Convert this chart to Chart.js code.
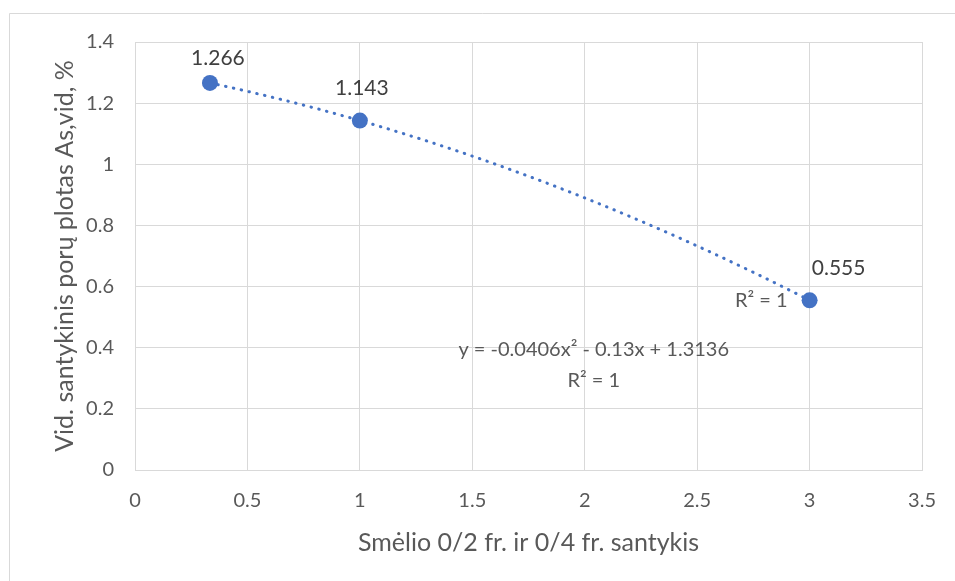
<!DOCTYPE html>
<html>
<head>
<meta charset="utf-8">
<script src="https://cdn.jsdelivr.net/npm/chart.js@4.4.1/dist/chart.umd.min.js"></script>
<style>
  html, body { margin: 0; padding: 0; background: #ffffff; }
  #wrap { position: relative; width: 955px; height: 581px; }
  canvas { display: block; }
</style>
</head>
<body>
<div id="wrap"><canvas id="chart" width="955" height="581"></canvas></div>
<script>
// Sand fraction ratio (0/2 : 0/4) and mean relative pore area As,vid (%)
const ratios = [1 / 3, 1, 3];
const poreArea = [1.266, 1.143, 0.555];

// Polynomial trendline text (order 2)
const trendEquation = 'y = -0.0406x² - 0.13x + 1.3136';
const trendR2 = 'R² = 1';

const xTicks = [0, 0.5, 1, 1.5, 2, 2.5, 3, 3.5];
const yTicks = [0, 0.2, 0.4, 0.6, 0.8, 1, 1.2, 1.4];

const xTitle = 'Smėlio 0/2 fr. ir 0/4 fr. santykis';
const yTitle = 'Vid. santykinis porų plotas As,vid, %';

const BLUE = '#4472c4';
const TEXT = '#595959';
const GRID = '#d9d9d9';
const FONT = 'Lato, "Open Sans", sans-serif';

const points = ratios.map((x, i) => ({ x, y: poreArea[i] }));

// Outer frame of the chart object
const framePlugin = {
  id: 'frame',
  beforeDraw(chart) {
    const ctx = chart.ctx;
    ctx.save();
    ctx.fillStyle = '#ffffff';
    ctx.fillRect(0, 0, chart.width, chart.height);
    ctx.strokeStyle = GRID;
    ctx.lineWidth = 1;
    ctx.beginPath();
    ctx.moveTo(9.5, chart.height);
    ctx.lineTo(9.5, 13.5);
    ctx.lineTo(chart.width, 13.5);
    ctx.stroke();
    ctx.restore();
  }
};

// Shape the trendline as the second-order polynomial through the points:
// the Bezier control points follow the parabola's slope at each point.
const parabolaPlugin = {
  id: 'parabolaTrend',
  beforeDatasetsDraw(chart) {
    const meta = chart.getDatasetMeta(1);
    const line = meta.dataset;
    const pts = meta.data;
    if (!line || pts.length !== 3) return;
    line.updateControlPoints(chart.chartArea, 'x');
    const [a, b, c] = pts;
    const f01 = (b.y - a.y) / (b.x - a.x);
    const f12 = (c.y - b.y) / (c.x - b.x);
    const f012 = (f12 - f01) / (c.x - a.x);
    const slope = x => f01 + f012 * (2 * x - a.x - b.x);
    for (let i = 0; i < pts.length - 1; i++) {
      const p = pts[i], q = pts[i + 1];
      const d = (q.x - p.x) / 3;
      p.cp2x = p.x + d;
      p.cp2y = p.y + slope(p.x) * d;
      q.cp1x = q.x - d;
      q.cp1y = q.y - slope(q.x) * d;
    }
    a.cp1x = a.x; a.cp1y = a.y;
    c.cp2x = c.x; c.cp2y = c.y;
    line._path = undefined;
  }
};

// Value labels above markers and trendline text
const labelOffsets = [[8, -25], [2, -32], [29, -32]];
const labelPlugin = {
  id: 'valueLabels',
  afterDatasetsDraw(chart) {
    const ctx = chart.ctx;
    const xs = chart.scales.x, ys = chart.scales.y;
    ctx.save();
    ctx.textBaseline = 'middle';
    ctx.textAlign = 'center';
    ctx.fillStyle = '#404040';
    ctx.font = '21px ' + FONT;
    poreArea.forEach((v, i) => {
      const px = xs.getPixelForValue(ratios[i]);
      const py = ys.getPixelForValue(v);
      ctx.fillText(v.toFixed(3), px + labelOffsets[i][0], py + labelOffsets[i][1]);
    });
    // trendline label beside the last point
    ctx.fillStyle = TEXT;
    ctx.font = '20px ' + FONT;
    const last = ratios.length - 1;
    const lx = xs.getPixelForValue(ratios[last]);
    const ly = ys.getPixelForValue(poreArea[last]);
    ctx.textAlign = 'right';
    ctx.fillText(trendR2, lx - 22, ly);
    // equation block in the plot
    const ex = xs.getPixelForValue(2.04);
    const ey = ys.getPixelForValue(0.393);
    ctx.textAlign = 'center';
    ctx.fillText(trendEquation, ex, ey);
    ctx.fillText(trendR2, ex, ey + 31);
    ctx.restore();
  }
};

new Chart(document.getElementById('chart'), {
  type: 'scatter',
  data: {
    datasets: [
      {
        label: 'As,vid',
        data: points,
        backgroundColor: BLUE,
        borderColor: BLUE,
        pointRadius: 8,
        pointHoverRadius: 8,
        borderWidth: 0,
        showLine: false,
        order: 0
      },
      {
        label: 'Trendline',
        data: points,
        showLine: true,
        borderColor: BLUE,
        borderWidth: 3,
        borderDash: [0.5, 7.5],
        borderCapStyle: 'round',
        tension: 0.4,
        pointRadius: 0,
        fill: false,
        order: 1
      }
    ]
  },
  options: {
    responsive: false,
    animation: false,
    events: [],
    layout: { padding: { top: 42, right: 30, left: 0, bottom: 0 } },
    plugins: {
      legend: { display: false },
      tooltip: { enabled: false }
    },
    scales: {
      x: {
        type: 'linear',
        min: 0,
        max: 3.5,
        afterBuildTicks(scale) { scale.ticks = xTicks.map(v => ({ value: v })); },
        afterFit(scale) { scale.height = 111; },
        ticks: {
          color: TEXT,
          font: { family: FONT, size: 20 },
          padding: 19,
          callback: v => String(v)
        },
        grid: { color: GRID, lineWidth: 1, drawTicks: false },
        border: { color: GRID },
        title: {
          display: true,
          text: xTitle,
          color: TEXT,
          font: { family: FONT, size: 25 },
          padding: { top: 0, bottom: 23 }
        }
      },
      y: {
        type: 'linear',
        min: 0,
        max: 1.4,
        afterBuildTicks(scale) { scale.ticks = yTicks.map(v => ({ value: v })); },
        afterFit(scale) { scale.width = 135; },
        ticks: {
          color: TEXT,
          font: { family: FONT, size: 20 },
          padding: 21,
          callback: v => String(v)
        },
        grid: { color: GRID, lineWidth: 1, drawTicks: false },
        border: { color: GRID },
        title: {
          display: true,
          text: yTitle,
          color: TEXT,
          font: { family: FONT, size: 25 },
          padding: { top: 50, bottom: 0 }
        }
      }
    }
  },
  plugins: [framePlugin, parabolaPlugin, labelPlugin]
});
</script>
</body>
</html>
